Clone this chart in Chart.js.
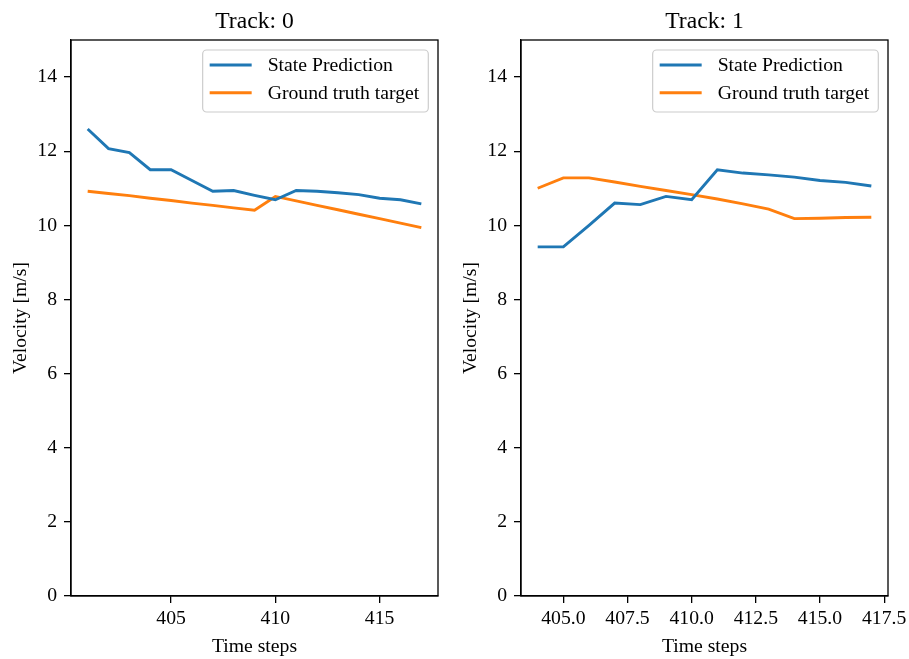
<!DOCTYPE html>
<html>
<head>
<meta charset="utf-8">
<script src="https://cdn.jsdelivr.net/npm/chart.js@4.4.1/dist/chart.umd.min.js"></script>
<style>
  html, body { margin: 0; padding: 0; background: #ffffff; }
  #wrap { position: relative; width: 909px; height: 659px; overflow: hidden; }
  .panel { position: absolute; top: 0; height: 659px; }
</style>
</head>
<body>
<div id="wrap">
  <div class="panel" style="left:0;width:450px"><canvas id="track0" width="450" height="659"></canvas></div>
  <div class="panel" style="left:450px;width:459px"><canvas id="track1" width="459" height="659"></canvas></div>
</div>
<script>
// ---- Track 0 ----
const track0Steps = [401, 402, 403, 404, 405, 406, 407, 408, 409, 410, 411, 412, 413, 414, 415, 416, 417];
const track0Pred  = [12.60, 12.07, 11.96, 11.50, 11.50, 11.21, 10.92, 10.94, 10.81, 10.69, 10.94, 10.92, 10.88, 10.83, 10.73, 10.69, 10.58];
const track0Truth = [10.92, 10.86, 10.80, 10.73, 10.67, 10.60, 10.54, 10.47, 10.41, 10.78, 10.66, 10.54, 10.42, 10.30, 10.18, 10.06, 9.94];
const track0XTicks = [405, 410, 415];

// ---- Track 1 ----
const track1Steps = [404, 405, 406, 407, 408, 409, 410, 411, 412, 413, 414, 415, 416, 417];
const track1Pred  = [9.42, 9.42, 10.00, 10.60, 10.56, 10.78, 10.69, 11.50, 11.41, 11.36, 11.30, 11.21, 11.16, 11.06];
const track1Truth = [11.00, 11.28, 11.28, 11.17, 11.05, 10.94, 10.83, 10.71, 10.58, 10.44, 10.18, 10.19, 10.21, 10.22];
const track1XTicks = [405.0, 407.5, 410.0, 412.5, 415.0, 417.5];

// ---- shared ----
const velocityTicks = [0, 2, 4, 6, 8, 10, 12, 14];
const seriesNames = ['State Prediction', 'Ground truth target'];
const trackTitles = ['Track: 0', 'Track: 1'];

const FONT = 'Liberation Serif';
const EM = 19.7;
const BLUE = '#1f77b4';
const ORANGE = '#ff7f0e';

// axis frame + title + legend drawn on top of the chart area
const framePlugin = {
  id: 'frame',
  afterDatasetsDraw(chart) {
    const { ctx, chartArea: a } = chart;
    ctx.save();
    ctx.strokeStyle = '#000';
    ctx.lineWidth = 1.3;
    ctx.strokeRect(a.left, a.top, a.right - a.left, a.bottom - a.top);

    // title
    ctx.fillStyle = '#000';
    ctx.font = `${EM * 1.2}px "${FONT}"`;
    ctx.textAlign = 'center';
    ctx.textBaseline = 'middle';
    ctx.fillText(chart.options.plugins.frame.title, (a.left + a.right) / 2, 21.5);

    // legend
    ctx.font = `${EM}px "${FONT}"`;
    const ds = chart.data.datasets;
    let maxW = 0;
    ds.forEach(d => { maxW = Math.max(maxW, ctx.measureText(d.label).width); });
    const textOff = 65;
    const w = textOff + maxW + 9;
    const h = 62;
    const x = a.right - 9.7 - w;
    const y = a.top + 10;
    const r = 4;
    ctx.beginPath();
    ctx.moveTo(x + r, y);
    ctx.arcTo(x + w, y, x + w, y + h, r);
    ctx.arcTo(x + w, y + h, x, y + h, r);
    ctx.arcTo(x, y + h, x, y, r);
    ctx.arcTo(x, y, x + w, y, r);
    ctx.closePath();
    ctx.fillStyle = 'rgba(255,255,255,0.8)';
    ctx.fill();
    ctx.strokeStyle = '#cccccc';
    ctx.lineWidth = 1.2;
    ctx.stroke();

    ds.forEach((d, i) => {
      const ry = y + 15 + i * 27.7;
      ctx.strokeStyle = d.borderColor;
      ctx.lineWidth = d.borderWidth;
      ctx.beginPath();
      ctx.moveTo(x + 7, ry);
      ctx.lineTo(x + 49, ry);
      ctx.stroke();
      ctx.fillStyle = '#000';
      ctx.textAlign = 'left';
      ctx.textBaseline = 'middle';
      ctx.fillText(d.label, x + textOff, ry + 1);
    });
    ctx.restore();
  }
};

function makeTrackChart(canvasId, title, steps, pred, truth, xTicks, fmt, padRight) {
  const lo = Math.min(...steps), hi = Math.max(...steps);
  const margin = (hi - lo) * 0.05;
  const font = { family: FONT, size: EM };
  return new Chart(document.getElementById(canvasId), {
    type: 'line',
    data: {
      datasets: [
        { label: seriesNames[0], data: steps.map((s, i) => ({ x: s, y: pred[i] })),
          borderColor: BLUE, backgroundColor: BLUE, borderWidth: 2.9, pointRadius: 0, tension: 0, fill: false },
        { label: seriesNames[1], data: steps.map((s, i) => ({ x: s, y: truth[i] })),
          borderColor: ORANGE, backgroundColor: ORANGE, borderWidth: 2.9, pointRadius: 0, tension: 0, fill: false }
      ]
    },
    options: {
      responsive: false,
      animation: false,
      devicePixelRatio: 1,
      layout: { padding: { top: 40, right: padRight, left: 0, bottom: 0 } },
      plugins: {
        legend: { display: false },
        title: { display: false },
        tooltip: { enabled: false },
        frame: { title }
      },
      scales: {
        x: {
          type: 'linear',
          position: 'bottom',
          min: lo - margin,
          max: hi + margin,
          afterBuildTicks: s => { s.ticks = xTicks.map(v => ({ value: v })); },
          afterFit: s => { s.height = 63; s.paddingLeft = 0; s.paddingRight = 0; },
          ticks: { callback: v => fmt(v), font, color: '#000', padding: 4, maxRotation: 0, autoSkip: false },
          grid: { drawOnChartArea: false, drawTicks: true, tickLength: 7, color: '#000', lineWidth: 1.3 },
          border: { display: true, color: '#000', width: 1.3 },
          title: { display: true, text: 'Time steps', font, color: '#000', padding: { top: 3, bottom: 0 } }
        },
        y: {
          type: 'linear',
          position: 'left',
          min: 0,
          max: 15,
          afterBuildTicks: s => { s.ticks = velocityTicks.map(v => ({ value: v })); },
          afterFit: s => { s.width = 71; s.paddingTop = 0; s.paddingBottom = 0; },
          ticks: { callback: v => String(v), font, color: '#000', padding: 7, autoSkip: false },
          grid: { drawOnChartArea: false, drawTicks: true, tickLength: 7, color: '#000', lineWidth: 1.3 },
          border: { display: true, color: '#000', width: 1.3 },
          title: { display: true, text: 'Velocity [m/s]', font, color: '#000', padding: { top: 9, bottom: 0 } }
        }
      }
    },
    plugins: [framePlugin]
  });
}

makeTrackChart('track0', trackTitles[0], track0Steps, track0Pred, track0Truth, track0XTicks, v => String(v), 12);
makeTrackChart('track1', trackTitles[1], track1Steps, track1Pred, track1Truth, track1XTicks, v => v.toFixed(1), 21);
</script>
</body>
</html>
